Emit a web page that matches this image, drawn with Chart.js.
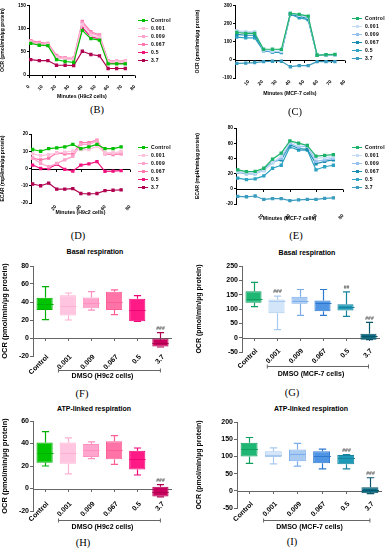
<!DOCTYPE html>
<html>
<head>
<meta charset="utf-8">
<script src="https://cdn.jsdelivr.net/npm/chart.js@4.4.0/dist/chart.umd.min.js"></script>
<style>
  body { margin: 0; background: #fff; }
  #fig { position: relative; width: 388px; height: 550px; overflow: hidden; font-family: "Liberation Sans", Arial, sans-serif; }
  canvas { position: absolute; }
  .tag { position: absolute; font-family: "Liberation Serif", "Times New Roman", serif; font-size: 10.5px; line-height: 11px; transform: translate(-50%, -50%); }
  .ttl { position: absolute; font-size: 7px; font-weight: bold; line-height: 8px; transform: translate(-50%, -50%); white-space: nowrap; }
  .legend { position: absolute; font-size: 5px; font-weight: bold; letter-spacing: 0.3px; }
  .legend div { height: 8px; line-height: 8px; white-space: nowrap; }
  .legend .sw { display: inline-block; position: relative; width: 10px; height: 1px; vertical-align: middle; margin-right: 3px; }
  .legend .sw i { position: absolute; left: 3.5px; top: -1px; width: 3px; height: 3px; }
</style>
</head>
<body>
<div id="fig">
  <canvas id="ocrH9" width="140" height="100" style="left:0;top:0"></canvas>
  <canvas id="ocrMcf" width="155" height="100" style="left:195px;top:0"></canvas>
  <canvas id="ecarH9" width="140" height="92" style="left:0;top:126px"></canvas>
  <canvas id="ecarMcf" width="155" height="100" style="left:195px;top:122px"></canvas>
  <canvas id="basalH9" width="178" height="126" style="left:0;top:258px"></canvas>
  <canvas id="basalMcf" width="190" height="124" style="left:195px;top:258px"></canvas>
  <canvas id="atpH9" width="178" height="122" style="left:0;top:413px"></canvas>
  <canvas id="atpMcf" width="190" height="121" style="left:195px;top:414px"></canvas>

  <div class="legend" id="legB" style="left:138px;top:16px"></div>
  <div class="legend" id="legC" style="left:352px;top:14px"></div>
  <div class="legend" id="legD" style="left:138px;top:143px"></div>
  <div class="legend" id="legE" style="left:352px;top:143px"></div>

  <div class="ttl" style="left:95px;top:252px">Basal respiration</div>
  <div class="ttl" style="left:307px;top:253px">Basal respiration</div>
  <div class="ttl" style="left:94px;top:409px">ATP-linked respiration</div>
  <div class="ttl" style="left:311px;top:409px">ATP-linked respiration</div>

  <div class="tag" style="left:97px;top:109px">(B)</div>
  <div class="tag" style="left:295px;top:111px">(C)</div>
  <div class="tag" style="left:78px;top:235px">(D)</div>
  <div class="tag" style="left:296px;top:235px">(E)</div>
  <div class="tag" style="left:82px;top:393px">(F)</div>
  <div class="tag" style="left:292px;top:392px">(G)</div>
  <div class="tag" style="left:83px;top:542px">(H)</div>
  <div class="tag" style="left:292px;top:541px">(I)</div>
</div>

<script>
// measurement times (min) and DMSO groups
const minutes = [1.3, 7.8, 14.3, 20.8, 27.3, 33.8, 40.3, 46.8, 53.3, 59.8, 66.3, 72.8];
const doses = ['Control', '0.001', '0.009', '0.067', '0.5', '3.7'];

// (B) OCR, H9c2 - one row per group
const ocrH9c2 = [
  [68, 64, 63, 33, 29, 27, 96, 78, 75, 24, 24, 24],
  [70, 66, 65, 38, 34, 33, 108, 85, 80, 28, 28, 28],
  [72, 68, 67, 40, 36, 35, 112, 90, 84, 30, 30, 30],
  [74, 70, 68, 42, 37, 36, 115, 93, 86, 31, 30, 30],
  [72, 66, 64, 38, 35, 34, 102, 82, 78, 26, 25, 25],
  [33, 31, 31, 21, 21, 20, 51, 44, 41, 14, 14, 14]
];
// (C) OCR, MCF-7
const ocrMcf7 = [
  [150, 145, 145, 58, 58, 57, 255, 250, 240, 25, 28, 30],
  [160, 155, 155, 55, 48, 48, 255, 245, 235, 25, 28, 28],
  [155, 150, 150, 52, 47, 45, 255, 245, 235, 25, 27, 28],
  [140, 135, 135, 50, 45, 42, 250, 240, 225, 25, 27, 28],
  [125, 120, 120, 50, 42, 40, 250, 230, 220, 25, 27, 28],
  [-20, -18, -15, -10, -8, -8, -38, -32, -32, -10, -10, -10]
];
// (D) ECAR, H9c2
const ecarH9c2 = [
  [11, 10, 11.5, 12, 12.5, 14, 11.5, 12.5, 14, 11.5, 11.5, 12.5],
  [8.5, 7.5, 8, 9, 9.5, 10, 11, 11, 13, 9, 9, 10],
  [6, 3, 1, 3, 5, 7, 14, 14, 16, 9, 9, 9],
  [6, 5, 6, 9, 8.5, 8.5, 15, 15, 16.5, 8.5, 8, 8.5],
  [2, 0, 0, 2.5, -0.5, -1.5, 2, 2.7, 4, -1.7, -1.5, -1.2],
  [-9, -10, -8.5, -12, -12, -11.7, -14.5, -14.7, -14.5, -12.8, -12.6, -12.4]
];
// (E) ECAR, MCF-7
const ecarMcf7 = [
  [25, 22.5, 23, 27, 39, 47, 63, 60, 57, 43, 44, 45],
  [23, 21, 21, 24, 35, 43, 62, 58, 57, 40, 41, 42],
  [22, 20, 20, 24, 34, 40, 60, 55, 56, 36, 38, 40],
  [22, 20, 20, 25, 36, 38, 58, 53, 52, 33, 36, 38],
  [14, 12, 13, 17, 27, 31, 55, 51, 51, 25, 29, 31],
  [-10, -10.5, -9.5, -14, -13, -13, -15.5, -14.5, -14, -14, -12.5, -12]
];

// box plots: whisker low, Q1, median, Q3, whisker high
const basalH9Low = [20.5, 20, 31, 26, 18.5, -10];
const basalH9Q1 = [31, 25, 33, 31, 18.5, -9.5];
const basalH9Med = [38, 36, 39, 40, 31, -5];
const basalH9Q3 = [44.8, 47.5, 45, 51.5, 43.7, 0];
const basalH9High = [57, 50, 51.5, 53.5, 47, 6];

const basalMcfLow = [108, 28, 78, 78, 74, -7];
const basalMcfQ1 = [122, 85, 118, 92, 95, -7];
const basalMcfMed = [135, 127, 128, 120, 108, 5];
const basalMcfQ3 = [162, 133, 143, 130, 117, 14];
const basalMcfHigh = [193, 145, 168, 168, 160, 53];

const atpH9Low = [20, 13, 26.5, 21.5, 12, -7.5];
const atpH9Q1 = [23, 22, 28, 26, 17, -7];
const atpH9Med = [32, 32, 34, 34, 26, -3];
const atpH9Q3 = [41, 41, 39.5, 42, 33.5, 1.5];
const atpH9High = [50.5, 45, 41.5, 47, 36, 3.5];

const atpMcfLow = [80, 78, 72, 64, 64, -8];
const atpMcfQ1 = [100, 98, 86, 80, 77, -7];
const atpMcfMed = [122, 105, 108, 100, 95, 2];
const atpMcfQ3 = [140, 115, 120, 115, 104, 10];
const atpMcfHigh = [155, 125, 138, 121, 105, 38];

const basalH9Marks = ['', '', '', '', '', '###'];
const basalMcfMarks = ['', '###', '', '', '##', '###'];
const atpH9Marks = ['', '', '', '', '', '###'];
const atpMcfMarks = ['', '', '', '', '###', '###'];

const pinkLines = ['#00c000', '#ffc2dd', '#ffa2cb', '#ff78ad', '#f0147f', '#b0004f'];
const blueLines = ['#1db36b', '#c6ddf5', '#96c1ee', '#1b8db0', '#2ea3c3', '#3a9cbf'];
const pinkFill = ['#00c400', '#ffc4df', '#ffa4cd', '#ff73a7', '#ff1a86', '#c8005e'];
const pinkEdge = ['#00b000', '#ffb0d3', '#ff90c0', '#ff5f97', '#f00577', '#b00050'];
const blueFill = ['#1db673', '#d3e5f8', '#a9cbf1', '#4f95e4', '#1d9ab8', '#0b6a82'];
const blueEdge = ['#129e5f', '#a9c9ef', '#7badea', '#2e79cf', '#16849f', '#08566a'];

Chart.defaults.font.family = '"Liberation Sans", Arial, sans-serif';
Chart.defaults.font.weight = 'bold';
Chart.defaults.color = '#000';
Chart.defaults.animation = false;
Chart.defaults.responsive = false;
Chart.defaults.devicePixelRatio = 1;
Chart.defaults.plugins.legend.display = false;
Chart.defaults.plugins.tooltip.enabled = false;

// fixed axis size; tick labels may rise above the axis box, so don't clip them
function fixHeight(h) {
  return s => {
    s.height = h;
    s._computeLabelArea = () => undefined;
  };
}

// x axis drawn where y = 0, with ticks hanging below it
const zeroAxis = {
  id: 'zeroAxis',
  beforeDatasetsDraw(chart, args, opts) {
    const { ctx, chartArea, scales: { x, y } } = chart;
    const y0 = Math.round(y.getPixelForValue(0)) + 0.5;
    ctx.save();
    ctx.strokeStyle = opts.color || '#000';
    ctx.lineWidth = 1;
    ctx.beginPath();
    ctx.moveTo(chartArea.left, y0);
    ctx.lineTo(chartArea.right, y0);
    x.ticks.forEach((t, i) => {
      const px = Math.round(x.getPixelForTick(i)) + 0.5;
      ctx.moveTo(px, y0);
      ctx.lineTo(px, y0 + 2.5);
    });
    ctx.stroke();
    ctx.restore();
  }
};

// whiskers, medians and significance marks on top of the floating bars
const whiskers = {
  id: 'whiskers',
  afterDatasetsDraw(chart) {
    const ds = chart.data.datasets[0];
    const meta = chart.getDatasetMeta(0);
    const y = chart.scales.y;
    const ctx = chart.ctx;
    ctx.save();
    meta.data.forEach((bar, i) => {
      const cx = Math.round(bar.x) + 0.5;
      const half = bar.width / 2;
      const cap = bar.width * 0.22;
      const q1 = y.getPixelForValue(ds.data[i][0]);
      const q3 = y.getPixelForValue(ds.data[i][1]);
      const lo = y.getPixelForValue(ds.low[i]);
      const hi = y.getPixelForValue(ds.high[i]);
      const md = Math.round(y.getPixelForValue(ds.median[i])) + 0.5;
      ctx.strokeStyle = ds.borderColor[i];
      ctx.lineWidth = 1.2;
      ctx.beginPath();
      ctx.moveTo(cx, q3); ctx.lineTo(cx, hi);
      ctx.moveTo(cx - cap, hi); ctx.lineTo(cx + cap, hi);
      ctx.moveTo(cx, q1); ctx.lineTo(cx, lo);
      ctx.moveTo(cx - cap, lo); ctx.lineTo(cx + cap, lo);
      ctx.stroke();
      ctx.lineWidth = 1;
      ctx.beginPath();
      ctx.moveTo(cx - half, md); ctx.lineTo(cx + half, md);
      ctx.stroke();
      if (ds.marks[i]) {
        ctx.fillStyle = '#555';
        ctx.font = 'bold 5px "Liberation Sans", Arial, sans-serif';
        ctx.textAlign = 'center';
        ctx.textBaseline = 'bottom';
        ctx.fillText(ds.marks[i], cx, hi - 1.5);
      }
    });
    ctx.restore();
  }
};

// DMSO bracket over the treated groups
const bracket = {
  id: 'bracket',
  afterDraw(chart, args, opts) {
    const { ctx, scales: { x } } = chart;
    const yb = Math.round(x.bottom - opts.offset) + 0.5;
    const a = x.getPixelForValue(0.6);
    const b = x.getPixelForValue(5);
    ctx.save();
    ctx.strokeStyle = '#666';
    ctx.lineWidth = 1;
    ctx.beginPath();
    ctx.moveTo(a, yb); ctx.lineTo(b, yb);
    ctx.moveTo(a, yb - 2); ctx.lineTo(a, yb + 2);
    ctx.moveTo(b, yb - 2); ctx.lineTo(b, yb + 2);
    ctx.stroke();
    ctx.restore();
  }
};

function makeLegend(id, colors) {
  document.getElementById(id).innerHTML = doses.map((d, i) =>
    `<div><span class="sw" style="background:${colors[i]}"><i style="background:${colors[i]}"></i></span>${d}</div>`
  ).join('');
}

function makeLine(id, rows, colors, o) {
  return new Chart(document.getElementById(id), {
    type: 'line',
    data: {
      datasets: rows.map((vals, i) => ({
        label: doses[i],
        data: minutes.map((m, j) => ({ x: m, y: vals[j] })),
        borderColor: colors[i],
        backgroundColor: colors[i],
        borderWidth: 1.2,
        pointStyle: 'rect',
        pointRadius: 1.5,
        tension: 0
      }))
    },
    options: {
      layout: { padding: { top: o.padTop, right: o.padRight, left: 0, bottom: 0 } },
      scales: {
        x: {
          type: 'linear', min: 0, max: 80,
          border: { display: false },
          grid: { display: false },
          ticks: {
            stepSize: o.xStep, autoSkip: false, minRotation: 45, maxRotation: 45, padding: o.xTickPad,
            font: { size: 4.8 },
            callback: v => (o.hideZero && v === 0) ? '' : v
          },
          title: { display: true, text: o.xTitle, font: { size: 5.2 }, padding: { top: 0, bottom: o.xTitlePad } },
          afterFit: fixHeight(o.xAxisH)
        },
        y: {
          min: o.yMin, max: o.yMax,
          border: { display: true, color: '#000', width: 1 },
          grid: { drawOnChartArea: false, tickLength: 2, color: '#000' },
          ticks: { stepSize: o.yStep, font: { size: 4.8 }, padding: 1 },
          title: { display: true, text: o.yTitle, font: { size: 5 }, padding: 0 },
          afterFit: s => { s.width = o.yAxisW; }
        }
      },
      plugins: { zeroAxis: { color: '#000' } }
    },
    plugins: [zeroAxis]
  });
}

function makeBox(id, low, q1, med, q3, high, marks, fills, edges, o) {
  return new Chart(document.getElementById(id), {
    type: 'bar',
    data: {
      labels: doses,
      datasets: [{
        data: q1.map((v, i) => [v, q3[i]]),
        low: low, high: high, median: med, marks: marks,
        backgroundColor: fills,
        borderColor: edges,
        borderWidth: 1,
        borderSkipped: false,
        barPercentage: 0.7,
        categoryPercentage: 1
      }]
    },
    options: {
      layout: { padding: { top: 8, right: o.padRight, left: 0, bottom: 0 } },
      scales: {
        x: {
          border: { display: false },
          grid: { display: false },
          ticks: {
            autoSkip: false, minRotation: 45, maxRotation: 45,
            padding: o.xTickPad, labelOffset: 3, font: { size: 7 }
          },
          title: { display: true, text: o.xTitle, font: { size: 7 }, padding: { top: 0, bottom: 4 } },
          afterFit: fixHeight(o.xAxisH)
        },
        y: {
          min: o.yMin, max: o.yMax,
          border: { display: true, color: '#666', width: 1 },
          grid: { drawOnChartArea: false, tickLength: 3, color: '#666' },
          ticks: { stepSize: o.yStep, font: { size: 7 }, padding: 1 },
          title: { display: true, text: 'OCR (pmol/min/µg protein)', font: { size: o.yTitleSize }, padding: 0 },
          afterFit: s => { s.width = o.yAxisW; }
        }
      },
      plugins: {
        zeroAxis: { color: '#666' },
        bracket: { offset: o.bracketOff }
      }
    },
    plugins: [zeroAxis, whiskers, bracket]
  });
}

makeLegend('legB', pinkLines);
makeLegend('legC', blueLines);
makeLegend('legD', pinkLines);
makeLegend('legE', blueLines);

makeLine('ocrH9', ocrH9c2, pinkLines, {
  yMin: 0, yMax: 150, yStep: 50, xStep: 10, hideZero: false,
  yTitle: 'OCR (pmol/min/µg protein)', xTitle: 'Minutes (H9c2 cells)',
  padTop: 5, padRight: 5, yAxisW: 29, xAxisH: 25, xTitlePad: 0, xTickPad: 1
});
makeLine('ocrMcf', ocrMcf7, blueLines, {
  yMin: -100, yMax: 300, yStep: 100, xStep: 10, hideZero: true,
  yTitle: 'OCR (pmol/min/µg protein)', xTitle: 'Minutes (MCF-7 cells)',
  padTop: 4, padRight: 3, yAxisW: 40, xAxisH: 22, xTitlePad: 3, xTickPad: -7
});
makeLine('ecarH9', ecarH9c2, pinkLines, {
  yMin: -20, yMax: 20, yStep: 10, xStep: 20, hideZero: true,
  yTitle: 'ECAR (mpH/min/µg protein)', xTitle: 'Minutes (H9c2 cells)',
  padTop: 8, padRight: 10, yAxisW: 31, xAxisH: 15, xTitlePad: 2, xTickPad: -7
});
makeLine('ecarMcf', ecarMcf7, blueLines, {
  yMin: -20, yMax: 80, yStep: 20, xStep: 20, hideZero: true,
  yTitle: 'ECAR (mpH/min/µg protein)', xTitle: 'Minutes (MCF-7 cells)',
  padTop: 6, padRight: 7, yAxisW: 41, xAxisH: 18, xTitlePad: 0, xTickPad: 1
});

makeBox('basalH9', basalH9Low, basalH9Q1, basalH9Med, basalH9Q3, basalH9High, basalH9Marks, pinkFill, pinkEdge, {
  yMin: -20, yMax: 80, yStep: 20, xTitle: 'DMSO (H9c2 cells)',
  padRight: 6, yAxisW: 33, xAxisH: 28, yTitleSize: 7.5, bracketOff: 14, xTickPad: -11
});
makeBox('basalMcf', basalMcfLow, basalMcfQ1, basalMcfMed, basalMcfQ3, basalMcfHigh, basalMcfMarks, blueFill, blueEdge, {
  yMin: -50, yMax: 250, yStep: 50, xTitle: 'DMSO (MCF-7 cells)',
  padRight: 5, yAxisW: 47, xAxisH: 30, yTitleSize: 7, bracketOff: 16, xTickPad: -13
});
makeBox('atpH9', atpH9Low, atpH9Q1, atpH9Med, atpH9Q3, atpH9High, atpH9Marks, pinkFill, pinkEdge, {
  yMin: -20, yMax: 60, yStep: 20, xTitle: 'DMSO (H9c2 cells)',
  padRight: 6, yAxisW: 33, xAxisH: 24, yTitleSize: 7.5, bracketOff: 15, xTickPad: -19
});
makeBox('atpMcf', atpMcfLow, atpMcfQ1, atpMcfMed, atpMcfQ3, atpMcfHigh, atpMcfMarks, blueFill, blueEdge, {
  yMin: -50, yMax: 200, yStep: 50, xTitle: 'DMSO (MCF-7 cells)',
  padRight: 3, yAxisW: 42, xAxisH: 27, yTitleSize: 7, bracketOff: 15, xTickPad: -16
});
</script>
</body>
</html>
